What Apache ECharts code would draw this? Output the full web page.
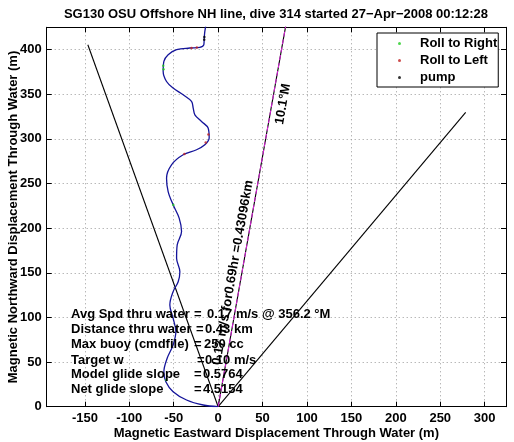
<!DOCTYPE html>
<html>
<head>
<meta charset="utf-8">
<script src="https://cdn.jsdelivr.net/npm/echarts@6/dist/echarts.min.js"></script>
<style>html,body{margin:0;padding:0;background:#fff}#c{width:514px;height:442px}</style>
</head>
<body>
<div id="c"></div>
<script>
// ---- data ----
const xTicks = [-150, -100, -50, 0, 50, 100, 150, 200, 250, 300];
const yTicks = [0, 50, 100, 150, 200, 250, 300, 350, 400];
const xRange = [-193, 324];
const yRange = [0, 425];

// glider track (east, north) in metres
const trackX = [0, -16.9, -35.6, -50.7, -58.9, -61.1, -57.4, -50.7, -47.6, -50.7, -54.4, -50.7, -45, -43.1, -46.8, -46.1, -41.2, -43.9, -50.7, -56.3, -58.1, -52.5, -39.4, -24.3, -15, -10.1, -11.3, -18.7, -26.2, -28.1, -30, -39.4, -50.7, -58.1, -61.9, -61.1, -56.3, -46.8, -31.9, -20.6, -16.1, -15.7, -15, -13.9, -13.5];
const trackY = [0, 1.9, 7.5, 16.8, 28, 39.2, 54.3, 69.2, 84.1, 99.1, 114, 128.9, 140, 151.3, 166.4, 181.3, 196.2, 211.2, 226.1, 241, 256, 271, 282.2, 287.8, 293.4, 300.9, 312.1, 319.5, 327, 334.5, 342, 349.4, 356.9, 364.3, 375.6, 386.8, 394.3, 399.9, 401.8, 402.5, 405.5, 413, 420.4, 428, 440];

// roll / pump markers along the track
const rollRightX = [-61.5, -61.8, -50.5, -58.5];
const rollRightY = [378, 382, 226, 30];
const rollLeftX = [-30, -24, -11, -14, -38];
const rollLeftY = [401.8, 402.3, 305, 296, 283];
const pumpX = [-15.7, -15.5];
const pumpY = [411, 414];

// guide lines from origin
const leftLine = [[0, 0], [-146.7, 405.5]];
const rightLine = [[0, 0], [278.6, 329.6]];
const headingLine = [[0, 0], [77, 432]];

const titleText = 'SG130 OSU Offshore NH line, dive 314 started 27\u2212Apr\u22122008 00:12:28';
const xName = 'Magnetic Eastward Displacement Through Water (m)';
const yName = 'Magnetic Northward Displacement Through Water (m)';
const statLabels = ['Avg Spd thru water', 'Distance thru water', 'Max buoy (cmdfile)', 'Target w', 'Model glide slope', 'Net glide slope'];
const statValues = ['0.17 m/s @ 356.2 \u00b0M', '0.43 km', '250 cc', '0.10 m/s', '0.5764', '4.5154'];
const headingText = '0.17 m/s for0.69hr =0.43096km';
const headingLabel = '10.1\u00b0M';

// ---- chart ----
const FONT = '"Liberation Sans", Arial, Helvetica, sans-serif';
const zip = (a, b) => a.map((v, i) => [v, b[i]]);

const statY = [314, 329.3, 344.5, 360, 374.5, 389.5];
const eqX = [194, 196, 194, 197, 194, 194];
const valX = [207, 205, 204, 205, 203, 203];

const graphics = [
  { type: 'text', x: 276, y: 14, style: { text: titleText, font: 'bold 13px ' + FONT, fill: '#000', align: 'center', verticalAlign: 'middle' } },
  { type: 'text', x: 223, y: 366, rotation: 80 * Math.PI / 180, style: { text: headingText, font: 'bold 13px ' + FONT, fill: '#000', align: 'left', verticalAlign: 'bottom' }, z: 100 },
  { type: 'text', x: 283, y: 104, rotation: 80 * Math.PI / 180, style: { text: headingLabel, font: 'bold 13px ' + FONT, fill: '#000', align: 'center', verticalAlign: 'middle' }, z: 100 }
];
statLabels.forEach((t, i) => {
  graphics.push({ type: 'text', x: 71, y: statY[i], z: 100, style: { text: t, font: 'bold 13px ' + FONT, fill: '#000', align: 'left', verticalAlign: 'middle' } });
  graphics.push({ type: 'text', x: eqX[i], y: statY[i], z: 100, style: { text: '=', font: 'bold 13px ' + FONT, fill: '#000', align: 'left', verticalAlign: 'middle' } });
  graphics.push({ type: 'text', x: valX[i], y: statY[i], z: 100, style: { text: statValues[i], font: 'bold 13px ' + FONT, fill: '#000', align: 'left', verticalAlign: 'middle' } });
});

const axisFont = { color: '#000', fontFamily: FONT, fontWeight: 'bold', fontSize: 13 };
const chart = echarts.init(document.getElementById('c'), null, { renderer: 'canvas' });
chart.setOption({
  animation: false,
  backgroundColor: '#fff',
  grid: { left: 46.7, right: 8, top: 27.3, bottom: 35.3, containLabel: false, outerBoundsMode: 'none' },
  legend: {
    data: ['Roll to Right', 'Roll to Left', 'pump'],
    orient: 'vertical', left: 377, top: 33,
    backgroundColor: '#fff', borderColor: '#000', borderWidth: 1, borderRadius: 0,
    padding: [4, 1, 3, 21], itemGap: 4, itemWidth: 3, itemHeight: 3, icon: 'circle',
    textStyle: { color: '#000', fontFamily: FONT, fontWeight: 'bold', fontSize: 13, padding: [0, 0, 0, 14] }
  },
  xAxis: [
    {
      type: 'value', min: xRange[0], max: xRange[1], position: 'bottom',
      name: xName, nameLocation: 'middle', nameGap: 20, nameMoveOverlap: false, nameTextStyle: axisFont,
      axisLine: { onZero: false, lineStyle: { color: '#000', width: 1 } },
      axisTick: { inside: true, length: 5, customValues: xTicks, lineStyle: { color: '#000' } },
      axisLabel: { customValues: xTicks, margin: 5, ...axisFont },
      splitLine: { show: true, lineStyle: { color: '#999', type: [1, 3], width: 1 } }
    },
    {
      type: 'value', min: xRange[0], max: xRange[1], position: 'top',
      axisLine: { onZero: false, lineStyle: { color: '#000', width: 1 } },
      axisTick: { inside: true, length: 5, customValues: xTicks, lineStyle: { color: '#000' } },
      axisLabel: { show: false }, splitLine: { show: false }
    }
  ],
  yAxis: [
    {
      type: 'value', min: yRange[0], max: yRange[1], position: 'left',
      name: yName, nameLocation: 'middle', nameGap: 27, nameMoveOverlap: false, nameTextStyle: axisFont,
      axisLine: { onZero: false, lineStyle: { color: '#000', width: 1 } },
      axisTick: { inside: true, length: 5, customValues: yTicks, lineStyle: { color: '#000' } },
      axisLabel: { customValues: yTicks, margin: 5, ...axisFont },
      splitLine: { show: true, lineStyle: { color: '#999', type: [1, 3], width: 1 } }
    },
    {
      type: 'value', min: yRange[0], max: yRange[1], position: 'right',
      axisLine: { onZero: false, lineStyle: { color: '#000', width: 1 } },
      axisTick: { inside: true, length: 5, customValues: yTicks, lineStyle: { color: '#000' } },
      axisLabel: { show: false }, splitLine: { show: false }
    }
  ],
  series: [
    { name: 'left', type: 'line', data: leftLine, showSymbol: false, symbol: 'none', lineStyle: { color: '#000', width: 1.1 }, silent: true, z: 3 },
    { name: 'right', type: 'line', data: rightLine, showSymbol: false, symbol: 'none', lineStyle: { color: '#000', width: 1.1 }, silent: true, z: 3 },
    { name: 'heading', type: 'line', data: headingLine, showSymbol: false, symbol: 'none', lineStyle: { color: '#000', width: 1.1 }, silent: true, z: 3 },
    { name: 'headingM', type: 'line', data: headingLine, showSymbol: false, symbol: 'none', lineStyle: { color: '#e020e0', width: 1, type: [5, 3] }, silent: true, z: 4 },
    { name: 'track', type: 'line', data: zip(trackX, trackY), showSymbol: false, symbol: 'none', smooth: 0.35, lineStyle: { color: '#14149a', width: 1.3 }, silent: true, z: 5 },
    { name: 'Roll to Right', type: 'scatter', data: zip(rollRightX, rollRightY), symbol: 'circle', symbolSize: 2.5, itemStyle: { color: '#22cc22' }, z: 6 },
    { name: 'Roll to Left', type: 'scatter', data: zip(rollLeftX, rollLeftY), symbol: 'circle', symbolSize: 2.5, itemStyle: { color: '#c02020' }, z: 6 },
    { name: 'pump', type: 'scatter', data: zip(pumpX, pumpY), symbol: 'circle', symbolSize: 2.5, itemStyle: { color: '#000' }, z: 6 }
  ],
  graphic: graphics
});
</script>
</body>
</html>
